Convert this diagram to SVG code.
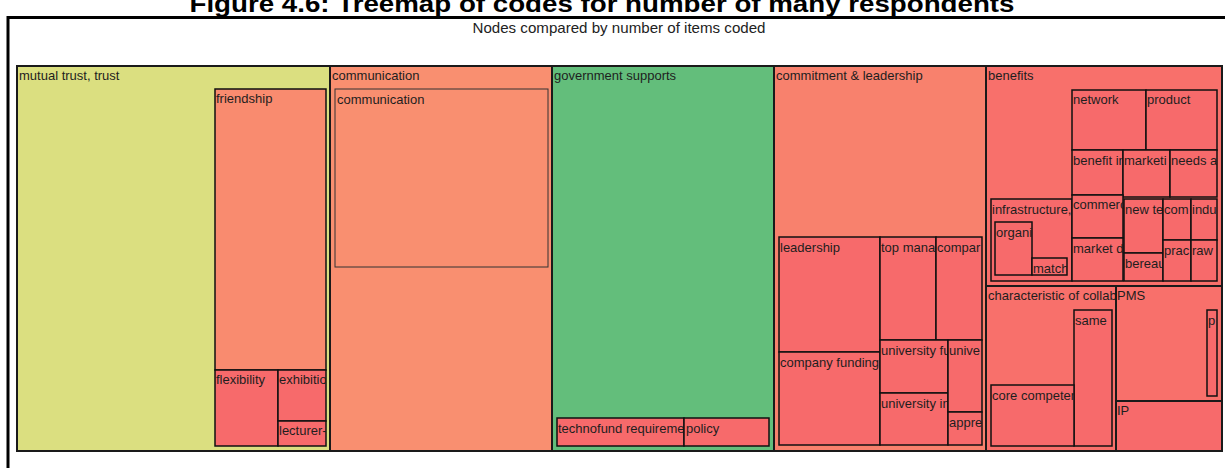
<svg xmlns="http://www.w3.org/2000/svg" width="1225" height="468" viewBox="0 0 1225 468">
  <style>
    text { font-family: "Liberation Sans", Arial, sans-serif; font-size: 13px; fill: #1e1e1e; }
    .title { font-size: 24px; font-weight: bold; fill: #000; }
    .subtitle { font-size: 15px; fill: #222; }
    .frame { stroke: #000; stroke-width: 3; fill: none; }
    .group { stroke: #1a1a1a; stroke-width: 2; }
    .leaf { stroke: #111; stroke-width: 1.5; }
    .thin { stroke: #333; stroke-width: 1; }
    .yellow { fill: #DBDF80; }
    .salmon { fill: #F98B6F; }
    .orange { fill: #F98F70; }
    .green { fill: #63BE7B; }
    .coral { fill: #F8816D; }
    .red { fill: #F8706B; }
    .deep { fill: #F76A6B; }
  </style>

  <rect width="1225" height="468" fill="#fff"/>

  <!-- page heading, partly above the top edge -->
  <text class="title" x="602" y="12" text-anchor="middle" textLength="825" lengthAdjust="spacingAndGlyphs">Figure 4.6: Treemap of codes for number of many respondents</text>

  <!-- chart frame -->
  <path class="frame" d="M8,470 V17.5 H1230"/>
  <text class="subtitle" x="619" y="33" text-anchor="middle" textLength="293" lengthAdjust="spacingAndGlyphs">Nodes compared by number of items coded</text>

  <!-- treemap outline -->
  <rect x="17" y="66" width="1205" height="385" fill="none" stroke="#666" stroke-width="1.5"/>

  <!-- mutual trust, trust -->
  <g id="mutual-trust">
    <rect class="group yellow" x="17" y="66" width="313" height="385"/>
    <svg x="17" y="66" width="313" height="20"><text x="2" y="14">mutual trust, trust</text></svg>
    <g id="friendship">
      <rect class="leaf salmon" x="215" y="89" width="111" height="281"/>
      <svg x="215" y="89" width="111" height="20"><text x="1" y="14">friendship</text></svg>
    </g>
    <g id="flexibility">
      <rect class="leaf deep" x="215" y="370" width="63" height="76"/>
      <svg x="215" y="370" width="63" height="20"><text x="1" y="14">flexibility</text></svg>
    </g>
    <g id="exhibition">
      <rect class="leaf deep" x="278" y="370" width="48" height="51"/>
      <svg x="278" y="370" width="48" height="20"><text x="1" y="14">exhibitio</text></svg>
    </g>
    <g id="lecturer">
      <rect class="leaf deep" x="278" y="421" width="48" height="25"/>
      <svg x="278" y="421" width="48" height="20"><text x="1" y="14">lecturer-</text></svg>
    </g>
  </g>

  <!-- communication -->
  <g id="communication">
    <rect class="group orange" x="330" y="66" width="222" height="385"/>
    <svg x="330" y="66" width="222" height="20"><text x="2" y="14">communication</text></svg>
    <g id="communication-child">
      <rect class="thin orange" x="335" y="89" width="213" height="178"/>
      <svg x="335" y="89" width="213" height="20"><text x="2" y="15">communication</text></svg>
    </g>
  </g>

  <!-- government supports -->
  <g id="government-supports">
    <rect class="group green" x="552" y="66" width="222" height="385"/>
    <svg x="552" y="66" width="222" height="20"><text x="2" y="14">government supports</text></svg>
    <g id="technofund">
      <rect class="leaf deep" x="557" y="418" width="127" height="28"/>
      <svg x="557" y="418" width="127" height="20"><text x="1" y="15">technofund requireme</text></svg>
    </g>
    <g id="policy">
      <rect class="leaf deep" x="684" y="418" width="85" height="28"/>
      <svg x="684" y="418" width="85" height="20"><text x="2" y="15">policy</text></svg>
    </g>
  </g>

  <!-- commitment & leadership -->
  <g id="commitment-leadership">
    <rect class="group coral" x="774" y="66" width="212" height="385"/>
    <svg x="774" y="66" width="212" height="20"><text x="2" y="14">commitment &amp; leadership</text></svg>
    <g id="leadership">
      <rect class="leaf deep" x="779" y="237" width="101" height="115"/>
      <svg x="779" y="237" width="101" height="20"><text x="1" y="15">leadership</text></svg>
    </g>
    <g id="company-funding">
      <rect class="leaf deep" x="779" y="352" width="101" height="93"/>
      <svg x="779" y="352" width="101" height="20"><text x="1" y="15">company funding</text></svg>
    </g>
    <g id="top-management">
      <rect class="leaf deep" x="880" y="237" width="56" height="103"/>
      <svg x="880" y="237" width="56" height="20"><text x="1" y="15">top mana</text></svg>
    </g>
    <g id="company">
      <rect class="leaf deep" x="936" y="237" width="46" height="103"/>
      <svg x="936" y="237" width="46" height="20"><text x="1" y="15">compar</text></svg>
    </g>
    <g id="university-funding">
      <rect class="leaf deep" x="880" y="340" width="68" height="53"/>
      <svg x="880" y="340" width="68" height="20"><text x="1" y="15">university fu</text></svg>
    </g>
    <g id="university-in">
      <rect class="leaf deep" x="880" y="393" width="68" height="52"/>
      <svg x="880" y="393" width="68" height="20"><text x="1" y="15">university in</text></svg>
    </g>
    <g id="university">
      <rect class="leaf deep" x="948" y="340" width="34" height="72"/>
      <svg x="948" y="340" width="34" height="20"><text x="1" y="15">unive</text></svg>
    </g>
    <g id="appreciation">
      <rect class="leaf deep" x="948" y="412" width="34" height="33"/>
      <svg x="948" y="412" width="34" height="20"><text x="1" y="15">appre</text></svg>
    </g>
  </g>

  <!-- benefits -->
  <g id="benefits">
    <rect class="group red" x="986" y="66" width="236" height="220"/>
    <svg x="986" y="66" width="236" height="20"><text x="2" y="14">benefits</text></svg>
    <g id="network">
      <rect class="leaf deep" x="1072" y="90" width="74" height="60"/>
      <svg x="1072" y="90" width="74" height="20"><text x="1" y="14">network</text></svg>
    </g>
    <g id="product">
      <rect class="leaf deep" x="1146" y="90" width="71" height="60"/>
      <svg x="1146" y="90" width="71" height="20"><text x="1" y="14">product</text></svg>
    </g>
    <g id="benefit-in">
      <rect class="leaf deep" x="1072" y="150" width="51" height="45"/>
      <svg x="1072" y="150" width="51" height="20"><text x="1" y="15">benefit in</text></svg>
    </g>
    <g id="marketing">
      <rect class="leaf deep" x="1123" y="150" width="47" height="47"/>
      <svg x="1123" y="150" width="47" height="20"><text x="1" y="15">marketi</text></svg>
    </g>
    <g id="needs">
      <rect class="leaf deep" x="1170" y="150" width="47" height="47"/>
      <svg x="1170" y="150" width="47" height="20"><text x="1" y="15">needs a</text></svg>
    </g>
    <g id="infrastructure">
      <rect class="leaf deep" x="991" y="199" width="81" height="82"/>
      <svg x="991" y="199" width="81" height="20"><text x="1" y="15">infrastructure,</text></svg>
      <g id="organisation">
        <rect class="leaf deep" x="995" y="222" width="37" height="53"/>
        <svg x="995" y="222" width="37" height="20"><text x="1" y="15">organi</text></svg>
      </g>
      <g id="match">
        <rect class="leaf deep" x="1032" y="258" width="35" height="17"/>
        <svg x="1032" y="258" width="35" height="17"><text x="1" y="15">match</text></svg>
      </g>
    </g>
    <g id="commercial">
      <rect class="leaf deep" x="1072" y="195" width="51" height="43"/>
      <svg x="1072" y="195" width="51" height="20"><text x="1" y="14">commerc</text></svg>
    </g>
    <g id="market-d">
      <rect class="leaf deep" x="1072" y="238" width="51" height="43"/>
      <svg x="1072" y="238" width="51" height="20"><text x="1" y="15">market d</text></svg>
    </g>
    <g id="new-technology">
      <rect class="leaf deep" x="1124" y="199" width="39" height="54"/>
      <svg x="1124" y="199" width="39" height="20"><text x="1" y="15">new te</text></svg>
    </g>
    <g id="bereau">
      <rect class="leaf deep" x="1124" y="253" width="39" height="28"/>
      <svg x="1124" y="253" width="39" height="20"><text x="1" y="15">bereau</text></svg>
    </g>
    <g id="com">
      <rect class="leaf deep" x="1163" y="199" width="28" height="41"/>
      <svg x="1163" y="199" width="28" height="20"><text x="1" y="15">com</text></svg>
    </g>
    <g id="industry">
      <rect class="leaf deep" x="1191" y="199" width="26" height="41"/>
      <svg x="1191" y="199" width="26" height="20"><text x="1" y="15">indu</text></svg>
    </g>
    <g id="practice">
      <rect class="leaf deep" x="1163" y="240" width="28" height="41"/>
      <svg x="1163" y="240" width="28" height="20"><text x="1" y="15">prac</text></svg>
    </g>
    <g id="raw">
      <rect class="leaf deep" x="1191" y="240" width="26" height="41"/>
      <svg x="1191" y="240" width="26" height="20"><text x="1" y="15">raw</text></svg>
    </g>
  </g>

  <!-- characteristic of collaboration -->
  <g id="characteristic">
    <rect class="group red" x="986" y="286" width="130" height="165"/>
    <svg x="986" y="286" width="130" height="20"><text x="2" y="14">characteristic of collab</text></svg>
    <g id="same">
      <rect class="leaf deep" x="1074" y="310" width="38" height="136"/>
      <svg x="1074" y="310" width="38" height="20"><text x="1" y="15">same</text></svg>
    </g>
    <g id="core-competence">
      <rect class="leaf deep" x="991" y="385" width="83" height="61"/>
      <svg x="991" y="385" width="83" height="20"><text x="1" y="15">core competer</text></svg>
    </g>
  </g>

  <!-- PMS -->
  <g id="pms">
    <rect class="group red" x="1116" y="286" width="106" height="115"/>
    <svg x="1116" y="286" width="106" height="20"><text x="1" y="14">PMS</text></svg>
    <g id="pms-child">
      <rect class="leaf deep" x="1207" y="310" width="10" height="86"/>
      <svg x="1207" y="310" width="10" height="20"><text x="1" y="15">p</text></svg>
    </g>
  </g>

  <!-- IP -->
  <g id="ip">
    <rect class="group deep" x="1116" y="401" width="106" height="50"/>
    <svg x="1116" y="401" width="106" height="20"><text x="1" y="14">IP</text></svg>
  </g>
</svg>
